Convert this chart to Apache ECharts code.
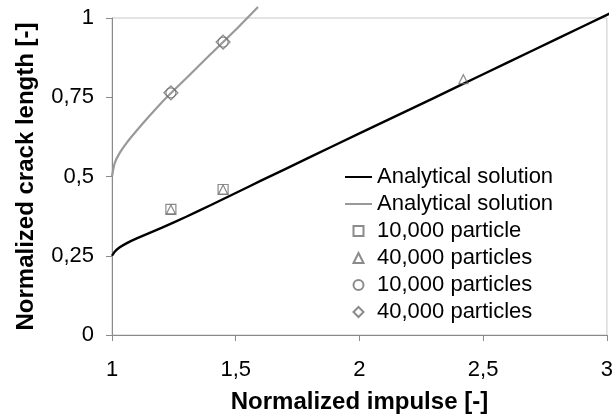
<!DOCTYPE html>
<html>
<head>
<meta charset="utf-8">
<script src="https://cdn.jsdelivr.net/npm/echarts@6/dist/echarts.min.js"></script>
<style>
  html, body { margin: 0; padding: 0; background: #fff; }
  #chart { width: 616px; height: 419px; }
</style>
</head>
<body>
<div id="chart"></div>
<script>
// tick labels (decimal comma as in the original)
const xTickLabels = ['1', '1,5', '2', '2,5', '3']
const yTickLabels = ['0', '0,25', '0,5', '0,75', '1']

// analytical solutions, [impulse, crack length]
const analyticalLow = [
  [1.0, 0.25], [1.01, 0.262], [1.03, 0.276], [1.06, 0.29], [1.1, 0.305],
  [1.2, 0.338], [1.3, 0.373], [1.4, 0.41], [1.5, 0.448], [1.6, 0.486],
  [1.8, 0.561], [2.0, 0.636], [2.2, 0.71], [2.4, 0.785], [2.6, 0.86],
  [2.8, 0.935], [3.0, 1.01], [3.036, 1.023]
]
const analyticalHigh = [
  [1.0, 0.5], [1.01, 0.54], [1.03, 0.573], [1.06, 0.607], [1.1, 0.645],
  [1.15, 0.69], [1.2, 0.733], [1.25, 0.772], [1.3, 0.81], [1.4, 0.887],
  [1.5, 0.963], [1.59, 1.035]
]

// simulation results
const low10k = [[1.238, 0.396], [1.449, 0.459]]
const low40k = [[1.238, 0.396], [1.449, 0.459], [2.42, 0.807]]
const high10k = [[1.238, 0.764], [1.449, 0.924]]
const high40k = [[1.238, 0.764], [1.449, 0.924]]

const fontFamily = '"Liberation Sans", Arial, sans-serif'
const markerStyle = { color: 'transparent', borderColor: '#6e6e6e', borderWidth: 1.2 }

const chart = echarts.init(document.getElementById('chart'))
chart.setOption({
  animation: false,
  textStyle: { fontFamily: fontFamily },
  grid: {
    left: 112,
    right: 9,
    top: 18,
    bottom: 83,
    show: true,
    borderColor: '#c8c8c8',
    borderWidth: 1
  },
  legend: {
    orient: 'vertical',
    left: 345,
    top: 166,
    padding: 0,
    itemWidth: 27,
    itemHeight: 10,
    itemGap: 5,
    textStyle: { fontSize: 22, color: '#000', fontFamily: fontFamily },
    data: [
      { name: 'Analytical solution', icon: 'path://M0,0H27V2H0Z' },
      { name: 'Analytical solution ', icon: 'path://M0,0H27V2H0Z' },
      { name: '10,000 particle', icon: 'path://M0,0H10V10H0Z' },
      { name: '40,000 particles', icon: 'path://M5,0L10,10H0Z' },
      { name: '10,000 particles', icon: 'path://M10,5A5,5,0,1,1,0,5A5,5,0,1,1,10,5Z' },
      { name: '40,000 particles ', icon: 'path://M5,0L10,5L5,10L0,5Z' }
    ],
    formatter: name => name.trim()
  },
  xAxis: {
    type: 'value',
    min: 1,
    max: 3,
    interval: 0.5,
    name: 'Normalized impulse [-]',
    nameLocation: 'middle',
    nameGap: 55,
    nameTextStyle: { fontSize: 24, fontWeight: 'bold', color: '#000' },
    axisLine: { show: true, lineStyle: { color: '#8a8a8a', width: 1 } },
    axisTick: { show: true, length: 6, lineStyle: { color: '#8a8a8a' } },
    axisLabel: {
      fontSize: 22,
      color: '#000',
      margin: 24,
      formatter: (v) => xTickLabels[Math.round((v - 1) / 0.5)]
    },
    splitLine: { show: false }
  },
  yAxis: {
    type: 'value',
    min: 0,
    max: 1,
    interval: 0.25,
    name: 'Normalized crack length [-]',
    nameLocation: 'middle',
    nameGap: 74,
    nameTextStyle: { fontSize: 24, fontWeight: 'bold', color: '#000' },
    axisLine: { show: true, lineStyle: { color: '#8a8a8a', width: 1 } },
    axisTick: { show: true, length: 6, lineStyle: { color: '#8a8a8a' } },
    axisLabel: {
      fontSize: 22,
      color: '#000',
      margin: 18,
      formatter: (v) => yTickLabels[Math.round(v / 0.25)]
    },
    splitLine: { show: false }
  },
  series: [
    {
      name: 'Analytical solution',
      type: 'line',
      data: analyticalLow,
      symbol: 'none',
      smooth: 0.2,
      clip: false,
      color: '#000',
      lineStyle: { color: '#000', width: 2.4 }
    },
    {
      name: 'Analytical solution ',
      type: 'line',
      data: analyticalHigh,
      symbol: 'none',
      smooth: 0.2,
      clip: false,
      color: '#999',
      lineStyle: { color: '#999', width: 2.2 }
    },
    {
      name: '10,000 particle',
      type: 'scatter',
      data: low10k,
      symbol: 'rect',
      symbolSize: 10,
      itemStyle: markerStyle,
      z: 3
    },
    {
      name: '40,000 particles',
      type: 'scatter',
      data: low40k,
      symbol: 'triangle',
      symbolSize: 9,
      itemStyle: markerStyle,
      z: 3
    },
    {
      name: '10,000 particles',
      type: 'scatter',
      data: high10k,
      symbol: 'circle',
      symbolSize: 10,
      itemStyle: markerStyle,
      z: 3
    },
    {
      name: '40,000 particles ',
      type: 'scatter',
      data: high40k,
      symbol: 'diamond',
      symbolSize: 14,
      itemStyle: markerStyle,
      z: 3
    }
  ]
})
</script>
</body>
</html>
